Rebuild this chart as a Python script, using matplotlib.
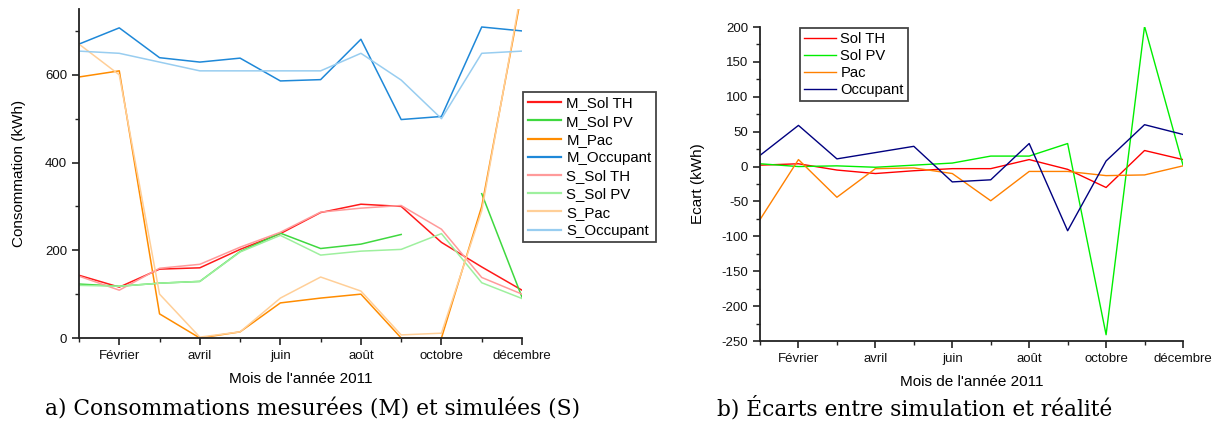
import numpy as np
import matplotlib
matplotlib.use("Agg")
import matplotlib.pyplot as plt
from matplotlib.ticker import FixedLocator, MultipleLocator

plt.rcParams['font.family'] = ['Liberation Sans', 'DejaVu Sans']
plt.rcParams['axes.unicode_minus'] = False

months = np.arange(1, 13)
month_ticks = [2, 4, 6, 8, 10, 12]
month_labels = ['Février', 'avril', 'juin', 'août', 'octobre', 'décembre']

# Left chart: measured (M) and simulated (S) consumption, kWh
m_sol_th = [143, 116, 157, 160, 202, 238, 286, 305, 300, 218, 162, 109]
m_sol_pv = [123, 118, 125, 129, 197, 239, 204, 214, 236, np.nan, 329, 93]
m_pac = [595, 609, 55, 0, 14, 80, 91, 100, 0, 0, 300, 790]
m_occupant = [670, 707, 639, 629, 638, 586, 589, 681, 498, 505, 709, 700]
s_sol_th = [141, 109, 159, 168, 207, 241, 287, 296, 302, 248, 138, 100]
s_sol_pv = [120, 118, 125, 129, 196, 234, 189, 198, 202, 238, 126, 90]
s_pac = [670, 600, 100, 2, 14, 91, 139, 107, 7, 11, 290, 800]
s_occupant = [654, 649, 629, 609, 609, 609, 609, 649, 588, 500, 649, 654]

# Right chart: differences, kWh
e_sol_th = [2, 4, -5, -10, -6, -3, -3, 10, -4, -30, 23, 10]
e_sol_pv = [4, 0, 1, -1, 2, 5, 15, 15, 33, -241, 201, 2]
e_pac = [-76, 10, -44, -3, -2, -10, -49, -7, -7, -13, -12, 1]
e_occupant = [16, 59, 11, 20, 29, -22, -19, 33, -92, 8, 60, 46]

W, H = 1215, 436
fig = plt.figure(figsize=(W / 100, H / 100), dpi=100)

def frac(x0, y0, x1, y1):
    return [x0 / W, 1 - y1 / H, (x1 - x0) / W, (y1 - y0) / H]

ax1 = fig.add_axes(frac(79, 9, 522, 338))
ax2 = fig.add_axes(frac(760, 27, 1183, 341))

left_series = [
    ('M_Sol TH', m_sol_th, '#ff1a1a'),
    ('M_Sol PV', m_sol_pv, '#3fd83f'),
    ('M_Pac', m_pac, '#ff8c00'),
    ('M_Occupant', m_occupant, '#1e88d8'),
    ('S_Sol TH', s_sol_th, '#ff9a9a'),
    ('S_Sol PV', s_sol_pv, '#9ef09e'),
    ('S_Pac', s_pac, '#ffcf98'),
    ('S_Occupant', s_occupant, '#98cdf0'),
]
for name, vals, col in left_series:
    ax1.plot(months, vals, color=col, lw=1.1, label=name)

right_series = [
    ('Sol TH', e_sol_th, '#ff0000'),
    ('Sol PV', e_sol_pv, '#00ee00'),
    ('Pac', e_pac, '#ff8000'),
    ('Occupant', e_occupant, '#000080'),
]
for name, vals, col in right_series:
    ax2.plot(months, vals, color=col, lw=1.0, label=name)

for ax in (ax1, ax2):
    ax.set_xlim(1, 12)
    ax.spines['top'].set_visible(False)
    ax.spines['right'].set_visible(False)
    for s in ('left', 'bottom'):
        ax.spines[s].set_linewidth(1.3)
        ax.spines[s].set_color('#222222')
    ax.xaxis.set_major_locator(FixedLocator(month_ticks))
    ax.set_xticklabels(month_labels)
    ax.xaxis.set_minor_locator(FixedLocator([1, 3, 5, 7, 9, 11]))
    ax.tick_params(which='major', direction='out', length=5, width=1.2, labelsize=9.5, colors='#222222')
    ax.tick_params(which='minor', direction='out', length=3, width=1.0, colors='#222222')
    ax.tick_params(axis='both', labelcolor='#111111')
    ax.set_xlabel("Mois de l'année 2011", fontsize=11, labelpad=7)

ax1.set_ylim(0, 750)
ax1.yaxis.set_major_locator(MultipleLocator(200))
ax1.yaxis.set_minor_locator(MultipleLocator(100))
ax1.set_ylabel('Consommation (kWh)', fontsize=11, labelpad=14)

ax2.set_ylim(-250, 200)
ax2.yaxis.set_major_locator(MultipleLocator(50))
ax2.yaxis.set_minor_locator(MultipleLocator(25))
ax2.set_ylabel('Ecart (kWh)', fontsize=11, labelpad=12)

leg1 = ax1.legend(loc='upper left', bbox_to_anchor=(523 / W, 1 - 92 / H),
                  bbox_transform=fig.transFigure, borderaxespad=0,
                  fancybox=False, framealpha=1, edgecolor='#444444',
                  fontsize=10.8, handlelength=2.25, handletextpad=0.35,
                  labelspacing=0.28, borderpad=0.3)
leg1.get_frame().set_linewidth(1.3)
for l in leg1.get_lines():
    l.set_linewidth(1.6)

leg2 = ax2.legend(loc='upper left', bbox_to_anchor=(800 / W, 1 - 28 / H),
                  bbox_transform=fig.transFigure, borderaxespad=0,
                  fancybox=False, framealpha=1, edgecolor='#444444',
                  fontsize=10.6, handlelength=2.2, handletextpad=0.3,
                  labelspacing=0.22, borderpad=0.25)
leg2.get_frame().set_linewidth(1.3)

cap_font = dict(family=['DejaVu Serif'], fontsize=15.7, ha='center', va='baseline')
fig.text(313 / W, 1 - 415 / H, 'a) Consommations mesurées (M) et simulées (S)', **cap_font)
fig.text(915 / W, 1 - 415 / H, 'b) Écarts entre simulation et réalité', **cap_font)

fig.savefig('out.png', dpi=100)
